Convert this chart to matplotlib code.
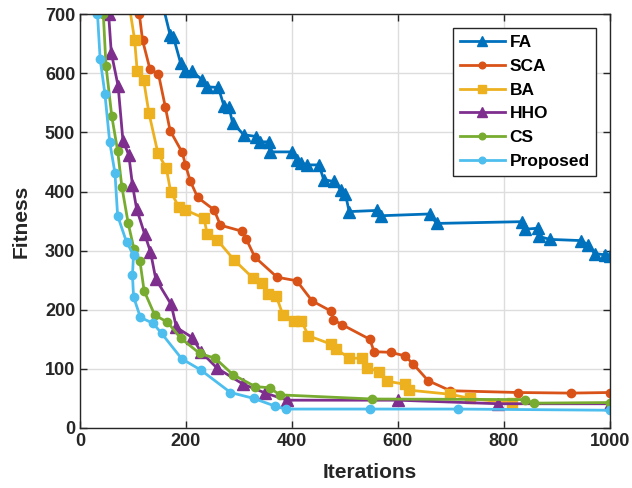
import matplotlib
matplotlib.use("Agg")
import matplotlib.pyplot as plt

plt.rcParams['font.family'] = ['Liberation Sans', 'DejaVu Sans']
plt.rcParams['font.weight'] = 'bold'

# convergence curves (iteration, fitness)
fa_x = [155, 170, 176, 190, 198, 211, 231, 240, 261, 272, 281, 288, 309, 333, 339, 357, 358,
        401, 409, 418, 429, 451, 460, 479, 492, 501, 508, 561, 568, 660, 673, 835, 839, 864,
        866, 887, 945, 959, 971, 990, 1000]
fa_y = [720, 665, 662, 617, 603, 603, 589, 577, 576, 544, 543, 516, 496, 493, 484, 484, 467,
        467, 453, 448, 445, 445, 420, 417, 403, 395, 366, 368, 359, 362, 346, 349, 336, 338,
        324, 319, 317, 310, 295, 293, 291]

sca_x = [112, 118, 132, 148, 161, 170, 193, 199, 208, 222, 253, 265, 305, 314, 330, 372, 409,
         438, 473, 478, 494, 547, 555, 586, 613, 628, 657, 699, 827, 926, 1000]
sca_y = [700, 656, 607, 599, 543, 503, 466, 445, 418, 390, 369, 343, 333, 319, 289, 255, 249,
         215, 198, 183, 175, 150, 129, 128, 122, 109, 80, 63, 60, 59, 60]

ba_x = [92, 103, 108, 120, 130, 147, 163, 171, 187, 198, 234, 240, 259, 291, 326, 343, 354,
        370, 383, 404, 418, 431, 473, 483, 508, 532, 542, 565, 580, 613, 621, 699, 736, 816]
ba_y = [720, 657, 603, 589, 533, 465, 439, 400, 373, 369, 355, 328, 318, 284, 254, 246, 227,
        224, 191, 181, 181, 156, 142, 134, 118, 118, 102, 95, 79, 74, 64, 57, 50, 42]

hho_x = [54, 59, 72, 81, 92, 99, 107, 122, 133, 143, 172, 182, 212, 228, 259, 308, 350, 391,
         600, 789, 1000]
hho_y = [700, 635, 578, 486, 462, 411, 370, 328, 298, 252, 209, 170, 153, 129, 101, 74, 59, 47,
         47, 41, 41]

cs_x = [44, 49, 60, 71, 79, 91, 102, 113, 121, 141, 165, 190, 226, 255, 289, 331, 358, 377,
        552, 840, 856, 1000]
cs_y = [700, 613, 527, 469, 408, 346, 302, 283, 232, 191, 179, 152, 126, 118, 90, 70, 68, 56,
        49, 48, 42, 43]

prop_x = [33, 38, 47, 56, 66, 71, 88, 101, 99, 101, 114, 138, 154, 192, 228, 284, 328, 368,
          388, 547, 713, 1000]
prop_y = [700, 624, 565, 484, 431, 359, 314, 293, 259, 222, 187, 177, 160, 117, 98, 60, 50, 37,
          32, 32, 32, 30]

series = [
    ('FA', fa_x, fa_y, '#0072BD', '^', 9),
    ('SCA', sca_x, sca_y, '#D95319', 'o', 6),
    ('BA', ba_x, ba_y, '#EDB120', 's', 7),
    ('HHO', hho_x, hho_y, '#7E2F8E', '^', 8.5),
    ('CS', cs_x, cs_y, '#77AC30', 'o', 6),
    ('Proposed', prop_x, prop_y, '#4DBEEE', 'o', 6),
]

fig = plt.figure(figsize=(6.32, 4.88), dpi=100)
ax = fig.add_axes([0.1266, 0.123, 0.8384, 0.848])

for name, xs, ys, col, mk, ms in series:
    ax.plot(xs, ys, color=col, marker=mk, markersize=ms, linewidth=2, label=name)

ax.set_xlim(0, 1000)
ax.set_ylim(0, 700)
ax.set_xticks(range(0, 1001, 200))
ax.set_yticks(range(0, 701, 100))
ax.grid(True, color='#dddddd', linewidth=1)
ax.set_axisbelow(True)
ax.tick_params(direction='in', top=True, right=True, labelsize=13, length=5,
               width=1, colors='#262626')
for s in ax.spines.values():
    s.set_color('#262626')
    s.set_linewidth(1)

ax.set_xlabel('Iterations', fontsize=15, fontweight='bold', color='#262626')
ax.xaxis.set_label_coords(0.547, -0.085)
ax.set_ylabel('Fitness', fontsize=15, fontweight='bold', color='#262626')
ax.yaxis.set_label_coords(-0.093, 0.5)

leg = ax.legend(loc='upper right', bbox_to_anchor=(0.974, 0.966), borderaxespad=0,
                fontsize=12.5, handlelength=2.6, borderpad=0.38, labelspacing=0.5,
                handletextpad=0.25, fancybox=False, framealpha=1, edgecolor='#262626',
                markerscale=0.8)
leg.get_frame().set_linewidth(1)

fig.savefig('out.png', dpi=100)
